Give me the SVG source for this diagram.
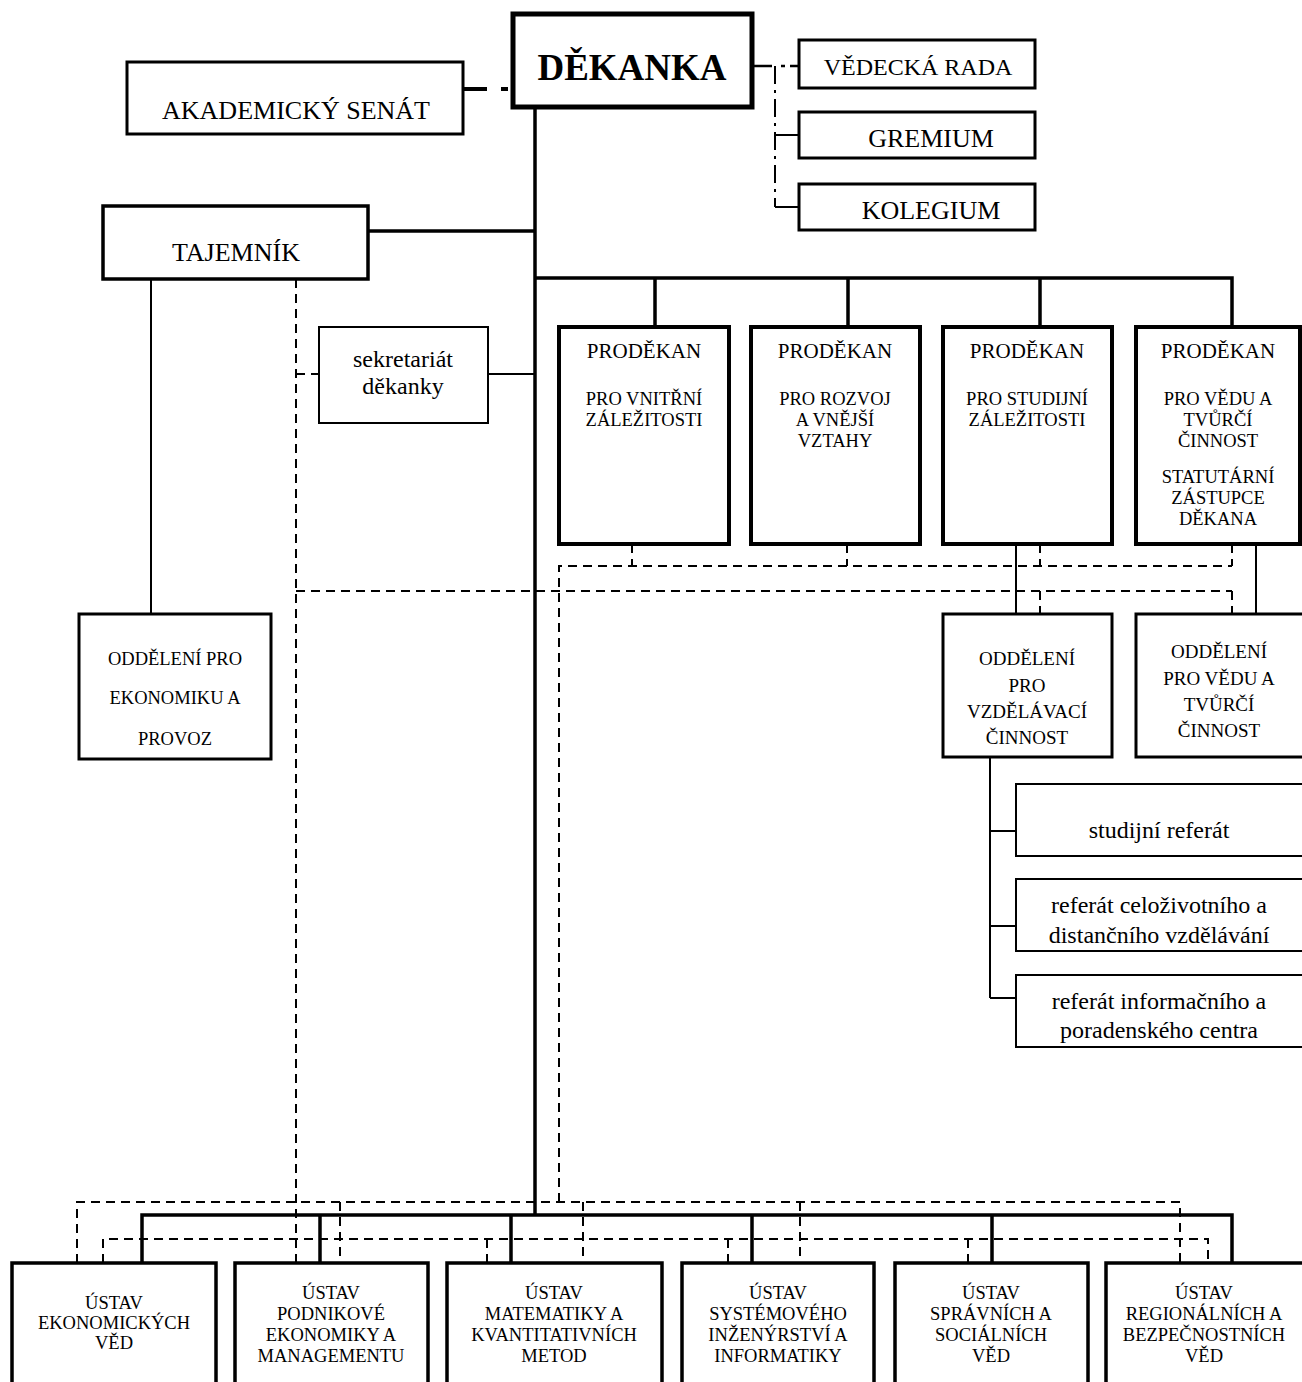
<svg xmlns="http://www.w3.org/2000/svg" width="1302" height="1382" viewBox="0 0 1302 1382">
<style>
.box{fill:#fff;stroke:#000}
text{font-family:"Liberation Serif","Times New Roman",serif;fill:#000;text-anchor:middle}
.thick{stroke:#000;stroke-width:3.5;fill:none}
.thin{stroke:#000;stroke-width:2;fill:none}
.dash{stroke:#000;stroke-width:2;stroke-dasharray:9 6;fill:none}
.dashdot{stroke:#000;stroke-width:2;stroke-dasharray:18 6 3 6;fill:none}
.t26{font-size:26px}
.t24{font-size:24px}
.t21{font-size:21px}
.ts{font-size:18.5px}
.to{font-size:19px}
.tu{font-size:18.5px}
.tr{font-size:24px}
</style>
<rect width="1302" height="1382" fill="#fff"/>
<g id="connectors">
<path d="M463 89 H487 M501 89 H508" stroke="#000" stroke-width="4" fill="none"/>
<path class="thick" d="M535 107 V1215" stroke-width="4"/>
<path class="thick" d="M368 231 H535"/>
<path class="thick" d="M535 278 H1232 V327 M655 278 V327 M848 278 V327 M1040 278 V327"/>
<path class="thin" d="M488 374 H535"/>
<path class="dash" d="M296 279 V1263 M296 374 H319"/>
<path class="thin" d="M151 279 V614"/>
<path class="dash" d="M632 544 V566 M847 544 V566 M1040 544 V566 M1232 544 V566 M559 1202 V566 H1232"/>
<path class="dash" d="M296 591 H1232 M1040 591 V614 M1232 591 V614"/>
<path class="thin" d="M1016 544 V614 M1256 544 V614"/>
<path class="thin" d="M990 757 V998 M990 831 H1016 M990 926 H1016 M990 998 H1016"/>
<path class="thick" d="M142 1263 V1215 H1232 V1263 M320 1215 V1263 M511 1215 V1263 M752 1215 V1263 M992 1215 V1263"/>
<path class="dash" d="M77 1263 V1202 H1180 V1263 M340 1202 V1263 M583 1202 V1263 M800 1202 V1263"/>
<path class="dash" d="M103 1263 V1239 H1208 V1263 M487 1239 V1263 M728 1239 V1263 M968 1239 V1263"/>
<path stroke="#000" stroke-width="2.5" fill="none" d="M752 66 H772"/>
<path class="dashdot" d="M775 66 V207"/>
<path stroke="#000" stroke-width="2.5" fill="none" d="M781 66 H785 M790 66 H799"/>
<path class="thin" d="M775 135 H799 M775 207 H799"/>
</g>
<g id="senat"><rect class="box" x="127" y="62" width="336" height="72" stroke-width="3"/><text class="t26" x="296" y="119">AKADEMICKÝ SENÁT</text></g>
<g id="dekanka"><rect class="box" x="513" y="14" width="239" height="93" stroke-width="5"/><text x="632" y="80" font-size="37" font-weight="bold">DĚKANKA</text></g>
<g id="vedecka-rada"><rect class="box" x="799" y="40" width="236" height="48" stroke-width="3"/><text class="t24" x="918" y="75">VĚDECKÁ RADA</text></g>
<g id="gremium"><rect class="box" x="799" y="112" width="236" height="46" stroke-width="3"/><text class="t26" x="931" y="147">GREMIUM</text></g>
<g id="kolegium"><rect class="box" x="799" y="184" width="236" height="46" stroke-width="3"/><text class="t26" x="931" y="219">KOLEGIUM</text></g>
<g id="tajemnik"><rect class="box" x="103" y="206" width="265" height="73" stroke-width="3.5"/><text class="t26" x="236" y="261">TAJEMNÍK</text></g>
<g id="sekretariat"><rect class="box" x="319" y="327" width="169" height="96" stroke-width="2"/><text class="t24" x="403" y="367">sekretariát</text><text class="t24" x="403" y="394">děkanky</text></g>
<g id="prodekan1"><rect class="box" x="559" y="327" width="170" height="217" stroke-width="4"/><text class="t21" x="644" y="358">PRODĚKAN</text><text class="ts" x="644" y="405">PRO VNITŘNÍ</text><text class="ts" x="644" y="426">ZÁLEŽITOSTI</text></g>
<g id="prodekan2"><rect class="box" x="751" y="327" width="169" height="217" stroke-width="4"/><text class="t21" x="835" y="358">PRODĚKAN</text><text class="ts" x="835" y="405">PRO ROZVOJ</text><text class="ts" x="835" y="426">A VNĚJŠÍ</text><text class="ts" x="835" y="447">VZTAHY</text></g>
<g id="prodekan3"><rect class="box" x="943" y="327" width="169" height="217" stroke-width="4"/><text class="t21" x="1027" y="358">PRODĚKAN</text><text class="ts" x="1027" y="405">PRO STUDIJNÍ</text><text class="ts" x="1027" y="426">ZÁLEŽITOSTI</text></g>
<g id="prodekan4"><rect class="box" x="1136" y="327" width="164" height="217" stroke-width="4"/><text class="t21" x="1218" y="358">PRODĚKAN</text><text class="ts" x="1218" y="405">PRO VĚDU A</text><text class="ts" x="1218" y="426">TVŮRČÍ</text><text class="ts" x="1218" y="447">ČINNOST</text><text class="ts" x="1218" y="483">STATUTÁRNÍ</text><text class="ts" x="1218" y="504">ZÁSTUPCE</text><text class="ts" x="1218" y="525">DĚKANA</text></g>
<g id="oddeleni-ekonomika"><rect class="box" x="79" y="614" width="192" height="145" stroke-width="3"/><text class="ts" x="175" y="665">ODDĚLENÍ PRO</text><text class="ts" x="175" y="704">EKONOMIKU A</text><text class="ts" x="175" y="745">PROVOZ</text></g>
<g id="oddeleni-vzdelavaci"><rect class="box" x="943" y="614" width="169" height="143" stroke-width="3"/><text class="to" x="1027" y="665">ODDĚLENÍ</text><text class="to" x="1027" y="692">PRO</text><text class="to" x="1027" y="718">VZDĚLÁVACÍ</text><text class="to" x="1027" y="744">ČINNOST</text></g>
<g id="oddeleni-veda"><rect class="box" x="1136" y="614" width="172" height="143" stroke-width="3"/><text class="to" x="1219" y="658">ODDĚLENÍ</text><text class="to" x="1219" y="685">PRO VĚDU A</text><text class="to" x="1219" y="711">TVŮRČÍ</text><text class="to" x="1219" y="737">ČINNOST</text></g>
<g id="studijni-referat"><rect class="box" x="1016" y="784" width="292" height="72" stroke-width="2"/><text class="tr" x="1159" y="838">studijní referát</text></g>
<g id="referat-celozivotni"><rect class="box" x="1016" y="879" width="292" height="72" stroke-width="2"/><text class="tr" x="1159" y="913">referát celoživotního a</text><text class="tr" x="1159" y="943">distančního vzdělávání</text></g>
<g id="referat-informacni"><rect class="box" x="1016" y="975" width="292" height="72" stroke-width="2"/><text class="tr" x="1159" y="1009">referát informačního a</text><text class="tr" x="1159" y="1038">poradenského centra</text></g>
<g id="ustav-ekonomickych"><rect class="box" x="12" y="1263" width="204" height="130" stroke-width="3.5"/><text class="tu" x="114" y="1309">ÚSTAV</text><text class="tu" x="114" y="1329">EKONOMICKÝCH</text><text class="tu" x="114" y="1349">VĚD</text></g>
<g id="ustav-podnikove"><rect class="box" x="235" y="1263" width="193" height="130" stroke-width="3.5"/><text class="tu" x="331" y="1299">ÚSTAV</text><text class="tu" x="331" y="1320">PODNIKOVÉ</text><text class="tu" x="331" y="1341">EKONOMIKY A</text><text class="tu" x="331" y="1362">MANAGEMENTU</text></g>
<g id="ustav-matematiky"><rect class="box" x="447" y="1263" width="215" height="130" stroke-width="3.5"/><text class="tu" x="554" y="1299">ÚSTAV</text><text class="tu" x="554" y="1320">MATEMATIKY A</text><text class="tu" x="554" y="1341">KVANTITATIVNÍCH</text><text class="tu" x="554" y="1362">METOD</text></g>
<g id="ustav-systemoveho"><rect class="box" x="682" y="1263" width="192" height="130" stroke-width="3.5"/><text class="tu" x="778" y="1299">ÚSTAV</text><text class="tu" x="778" y="1320">SYSTÉMOVÉHO</text><text class="tu" x="778" y="1341">INŽENÝRSTVÍ A</text><text class="tu" x="778" y="1362">INFORMATIKY</text></g>
<g id="ustav-spravnich"><rect class="box" x="895" y="1263" width="193" height="130" stroke-width="3.5"/><text class="tu" x="991" y="1299">ÚSTAV</text><text class="tu" x="991" y="1320">SPRÁVNÍCH A</text><text class="tu" x="991" y="1341">SOCIÁLNÍCH</text><text class="tu" x="991" y="1362">VĚD</text></g>
<g id="ustav-regionalnich"><rect class="box" x="1106" y="1263" width="202" height="130" stroke-width="3.5"/><text class="tu" x="1204" y="1299">ÚSTAV</text><text class="tu" x="1204" y="1320">REGIONÁLNÍCH A</text><text class="tu" x="1204" y="1341">BEZPEČNOSTNÍCH</text><text class="tu" x="1204" y="1362">VĚD</text></g>
</svg>
